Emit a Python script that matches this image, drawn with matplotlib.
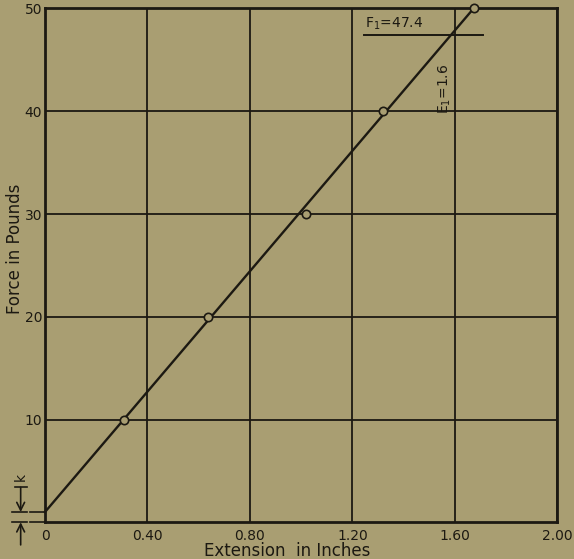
# Spring test: force vs extension (scanned chart recreation)
import matplotlib
matplotlib.use('Agg')
import matplotlib.pyplot as plt

# ================================================
# Data
# ================================================
extension = [0.309, 0.635, 1.018, 1.318, 1.673]   # inches
force = [10, 20, 30, 40, 50]                       # pounds

# fitted straight line, starts at initial tension k
line_x = [0.0, 1.673]
line_y = [1.0, 50.0]
k_value = 1.0

f1_value = 47.4
f1_span = [1.246, 1.71]
e1_value = 1.6

x_ticks = [0, 0.40, 0.80, 1.20, 1.60, 2.00]
x_labels = ['0', '0.40', '0.80', '1.20', '1.60', '2.00']
y_ticks = [10, 20, 30, 40, 50]

paper = '#a99e72'
ink = '#1c1912'

plt.rcParams['font.family'] = ['DejaVu Sans']

# ================================================
# Figure
# ================================================
fig = plt.figure(figsize=(5.74, 5.59), dpi=100, facecolor=paper)
ax = fig.add_axes([0.0784, 0.0657, 0.8925, 0.9191])
ax.set_facecolor(paper)
ax.set_xlim(0, 2.0)
ax.set_ylim(0, 50)

ax.set_xticks(x_ticks)
ax.set_xticklabels(x_labels)
ax.set_yticks(y_ticks)
ax.tick_params(length=0, colors=ink, labelsize=10)
ax.tick_params(axis='x', pad=5)
ax.tick_params(axis='y', pad=2)
ax.grid(True, color=ink, linewidth=1.3)
for s in ax.spines.values():
    s.set_color(ink)
    s.set_linewidth(2.0)

# line + measured points
ax.plot(line_x, line_y, color=ink, linewidth=1.7, clip_on=False, zorder=3)
ax.plot(extension, force, 'o', markersize=6, markerfacecolor=paper,
        markeredgecolor=ink, markeredgewidth=1.2, clip_on=False, zorder=4)

# F1 marker line and labels
ax.plot(f1_span, [f1_value, f1_value], color=ink, linewidth=1.4, zorder=3)
ax.text(f1_span[0] + 0.005, f1_value + 0.35, r'F$_1$=%.1f' % f1_value,
        color=ink, fontsize=10, ha='left', va='bottom')
ax.text(e1_value - 0.038, 42.2, r'E$_1$=%.1f' % e1_value, color=ink,
        fontsize=10, rotation=90, ha='center', va='center')

# k dimension marks left of the axis
ax.plot([-0.059, 0], [k_value, k_value], color=ink, linewidth=1.2, clip_on=False)
ax.plot([-0.059, 0], [0, 0], color=ink, linewidth=1.2, clip_on=False)
ax.plot([-0.129, -0.070], [k_value, k_value], color=ink, linewidth=1.2, clip_on=False)
ax.plot([-0.129, -0.070], [0, 0], color=ink, linewidth=1.2, clip_on=False)
ax.plot([-0.117, -0.070], [3.4, 3.4], color=ink, linewidth=1.2, clip_on=False)
ax.annotate('', xy=(-0.095, k_value), xytext=(-0.095, 3.4),
            arrowprops=dict(arrowstyle='->', color=ink, lw=1.2, mutation_scale=14,
                            shrinkA=0, shrinkB=0), annotation_clip=False)
ax.annotate('', xy=(-0.095, 0), xytext=(-0.095, -2.2),
            arrowprops=dict(arrowstyle='->', color=ink, lw=1.2, mutation_scale=14,
                            shrinkA=0, shrinkB=0), annotation_clip=False)
ax.text(-0.093, 4.4, 'k', color=ink, fontsize=10, rotation=90,
        ha='center', va='center', clip_on=False)

# axis titles
fig.text(287 / 574, 1 - 551.5 / 559, 'Extension  in Inches', color=ink,
         fontsize=12, ha='center', va='center')
fig.text(15 / 574, 1 - 249 / 559, 'Force in Pounds', color=ink,
         fontsize=12, rotation=90, ha='center', va='center')

plt.savefig('out.png', dpi=100, facecolor=paper)
